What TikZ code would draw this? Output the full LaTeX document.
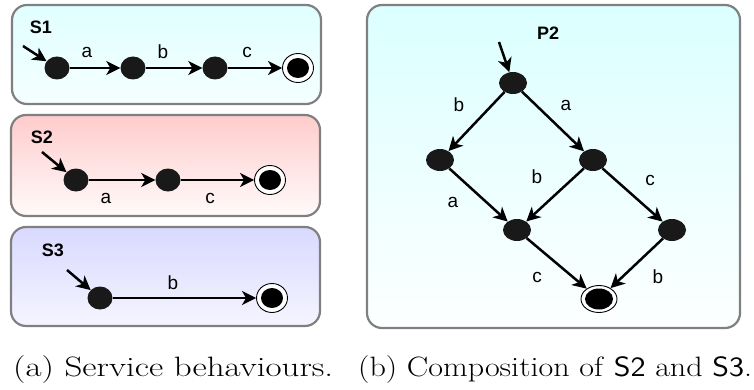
\documentclass[tikz,border=0pt]{standalone}
\usepackage{fontspec}
\newfontfamily\lab{Liberation Sans}
\usetikzlibrary{arrows.meta,shapes.geometric}
\begin{document}
\begin{tikzpicture}[x=1pt,y=1pt,
  panel/.style={draw=black!50, line width=2.2pt, rounded corners=15pt},
  dot/.style={ellipse, fill=black!90, inner sep=0pt, minimum width=25pt, minimum height=23pt},
  pdot/.style={ellipse, fill=black!90, inner sep=0pt, minimum width=28pt, minimum height=22pt},
  fin/.style={ellipse, draw=black, line width=0.9pt, fill=white, inner sep=0pt, minimum width=31pt, minimum height=29pt,
     path picture={\fill[black] (path picture bounding box.center) ellipse (11pt and 10pt);}},
  pfin/.style={ellipse, draw=black, line width=0.9pt, fill=white, inner sep=0pt, minimum width=36pt, minimum height=27pt,
     path picture={\fill[black] (path picture bounding box.center) ellipse (14pt and 10.5pt);}},
  conn/.style={line width=2.5pt, -{Stealth[length=14pt,width=14pt,inset=4pt]}},
  lbl/.style={font=\lab\fontsize{19}{22}\selectfont, inner sep=0pt},
  ttl/.style={font=\lab\bfseries\fontsize{18}{21}\selectfont, inner sep=0pt},
  captxt/.style={font=\fontsize{28}{32}\selectfont, inner sep=0pt, anchor=west}
]
\useasboundingbox (0,0) rectangle (754,389);
% panels
\path[panel, top color=cyan!12, bottom color=cyan!4] (12,384) rectangle (321,285);
\path[panel, top color=red!20, bottom color=red!2] (11,274) rectangle (320,173);
\path[panel, top color=blue!15, bottom color=blue!4] (11,162) rectangle (320,63);
\path[panel, top color=cyan!14, bottom color=cyan!1] (367,384) rectangle (740,61);

% S1
\node[ttl] (t1) at (41,362) {S1};
\coordinate (i1) at (23,343);
\node[dot] (a1) at (57,321) {};
\node[dot] (a2) at (133,321) {};
\node[dot] (a3) at (215,321) {};
\node[fin] (a4) at (298,321) {};
\draw[conn] (i1) -- (a1);
\draw[conn] (a1) -- (a2);
\draw[conn] (a2) -- (a3);
\draw[conn] (a3) -- (a4);
\node[lbl] (la1) at (87,337) {a};
\node[lbl] (la2) at (163,337) {b};
\node[lbl] (la3) at (247,337) {c};

% S2
\node[ttl] (t2) at (42,252) {S2};
\coordinate (i2) at (42,237);
\node[dot] (b1) at (76,209) {};
\node[dot] (b2) at (168,209) {};
\node[fin] (b3) at (270,209) {};
\draw[conn] (i2) -- (b1);
\draw[conn] (b1) -- (b2);
\draw[conn] (b2) -- (b3);
\node[lbl] (lb1) at (106,191) {a};
\node[lbl] (lb2) at (210,191) {c};

% S3
\node[ttl] (t3) at (53,139) {S3};
\coordinate (i3) at (67,119);
\node[dot] (c1) at (100,91) {};
\node[fin] (c2) at (272,91) {};
\draw[conn] (i3) -- (c1);
\draw[conn] (c1) -- (c2);
\node[lbl] (lc1) at (173,106) {b};

% P2
\node[ttl] (t4) at (548,356) {P2};
\coordinate (i4) at (499,347);
\node[pdot] (T) at (513,306) {};
\node[pdot] (L) at (440,229) {};
\node[pdot] (R) at (593,229) {};
\node[pdot] (M) at (517,159) {};
\node[pdot] (RR) at (672,159) {};
\node[pfin] (F) at (599,90) {};
\draw[conn] (i4) -- (T);
\draw[conn] (T) -- (L);
\draw[conn] (T) -- (R);
\draw[conn] (L) -- (M);
\draw[conn] (R) -- (M);
\draw[conn] (R) -- (RR);
\draw[conn] (M) -- (F);
\draw[conn] (RR) -- (F);
\node[lbl] (p1) at (459,284) {b};
\node[lbl] (p2) at (566,284) {a};
\node[lbl] (p3) at (537,212) {b};
\node[lbl] (p4) at (650,209) {c};
\node[lbl] (p5) at (453,187) {a};
\node[lbl] (p6) at (537,112) {c};
\node[lbl] (p7) at (658,112) {b};

% captions
\node[captxt] (ca) at (13,19) {\resizebox{320pt}{\height}{(a) Service behaviours.}};
\node[captxt] (cb) at (358,19) {\resizebox{394pt}{\height}{(b) Composition of \textsf{S2} and \textsf{S3}.}};
\end{tikzpicture}
\end{document}
